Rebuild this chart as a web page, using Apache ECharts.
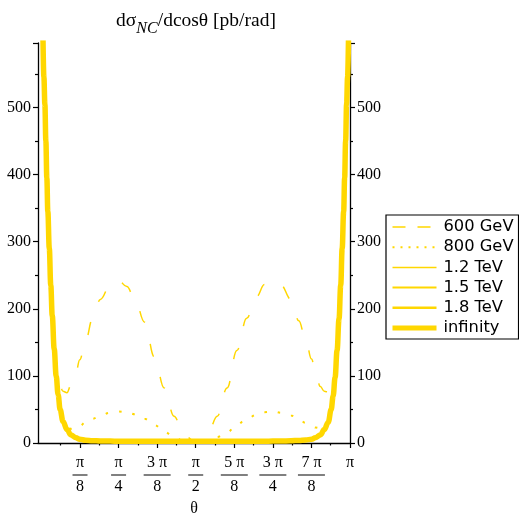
<!DOCTYPE html>
<html>
<head>
<meta charset="utf-8">
<script src="https://cdn.jsdelivr.net/npm/echarts@6/dist/echarts.min.js"></script>
<style>
html,body{margin:0;padding:0;background:#fff;}
#chart{width:519px;height:515px;}
</style>
</head>
<body>
<div id="chart"></div>
<script>
// sample angles (rad)
const theta = [0.016,0.025,0.035,0.045,0.055,0.065,0.08,0.095,0.11,0.13,0.15,0.17,0.19,0.22,0.26,0.30,0.35,0.39,0.45,0.52,0.60,0.70,0.785,0.87,0.95,1.05,1.15,1.25,1.35,1.45,1.571,
  1.69,1.79,1.89,1.99,2.09,2.19,2.27,2.356,2.44,2.54,2.62,2.69,2.75,2.79,2.84,2.88,2.92,2.95,2.97,2.99,3.01,3.03,3.047,3.062,3.077,3.087,3.097,3.107,3.117,3.126];

const gev600 = [600,545,505,452,398,350,296,243,200,155,120,98,84,77,75,86,104,124,153,185,214,235,242,233,215,180,128,82,40,12,1,
  12,40,82,138,186,218,236,242,235,214,182,155,125,105,84,77,76,80,90,110,145,190,240,294,348,398,452,505,545,600];
const gev800 = [600,545,505,450,396,346,292,237,192,142,103,75,54,34,25,21,22,25,31,36,41,45,47,46,43,36,27,17,9,3,1,
  3,9,16,27,36,42,46,47,45,41,35,30,26,23,22,24,32,52,72,100,140,187,237,292,346,396,450,505,545,600];
const tev12 = [600,545,505,450,395,345,290,235,190,140,100,72,50,32,20,13,9,6.5,5.5,5,5,5,5,5,4.8,4.5,4,3.5,3,2.7,2.5,
  2.7,3,3.5,4,4.5,4.8,5,5,5,5,5,5.5,6.5,9,13,20,31,50,70,98,138,185,235,290,345,395,450,505,545,600];
const tev15 = [600,545,505,450,395,345,290,235,190,140,100,72,50,32,20,12.5,8.5,6,4.8,4.2,4,4,4,3.9,3.7,3.5,3.2,3,2.7,2.6,2.5,
  2.6,2.7,3,3.2,3.5,3.7,3.9,4,4,4,4.2,4.8,6,8.5,12.5,20,31,50,70,98,138,185,235,290,345,395,450,505,545,600];
const tev18 = [600,545,505,450,395,345,290,235,190,140,100,72,50,32,20,12,8.2,5.8,4.5,3.8,3.5,3.4,3.3,3.2,3.1,3,2.9,2.8,2.6,2.5,2.5,
  2.5,2.6,2.8,2.9,3,3.1,3.2,3.3,3.4,3.5,3.8,4.5,5.8,8.2,12,20,31,50,70,98,138,185,235,290,345,395,450,505,545,600];
const infinity = [600,545,505,450,395,345,290,235,190,140,100,72,50,32,20,12,8,5.5,4.2,3.5,3,2.8,2.6,2.5,2.5,2.5,2.5,2.5,2.5,2.5,2.5,
  2.5,2.5,2.5,2.5,2.5,2.6,2.7,2.8,3,3.3,3.8,4.5,5.5,8,12,20,31,50,70,98,138,185,235,290,345,395,450,505,545,600];

const seriesNames = ['600 GeV','800 GeV','1.2 TeV','1.5 TeV','1.8 TeV','infinity'];
const seriesValues = [gev600, gev800, tev12, tev15, tev18, infinity];
const xTickLabels = ['π/8','π/4','3 π/8','π/2','5 π/8','3 π/4','7 π/8','π'];
const yMax = 596;

const GOLD = '#FFD700';
const widths = [1.5, 2, 1.3, 2, 2.6, 5.5];
const dashes = [[13,22],[2.5,11],'solid','solid','solid','solid'];
const legendDashes = [[13,12],[2,6],'solid','solid','solid','solid'];
const legendWidths = [1.5, 2, 1.5, 2, 2.6, 5];

const majorTicks = [];
for (let k = 1; k <= 8; k++) majorTicks.push(k * Math.PI / 8);
const minorTicks = [];
for (let k = 1; k <= 16; k += 2) minorTicks.push(k * Math.PI / 16);

const serif = 'Liberation Serif';

function fracLabel(value) {
  const idx = Math.round(value / (Math.PI / 8)) - 1;
  const s = xTickLabels[idx] || '';
  const parts = s.split('/');
  if (parts.length === 1) return '{n|' + parts[0] + '}';
  const bar = parts[0].length > 1 ? 'barw' : 'bar';
  return '{n|' + parts[0] + '}\n{' + bar + '| }\n{n|' + parts[1] + '}';
}

const chart = echarts.init(document.getElementById('chart'), null, {renderer: 'canvas'});

const series = seriesNames.map((name, i) => ({
  name: name,
  type: 'line',
  xAxisIndex: 0,
  yAxisIndex: 0,
  data: theta.map((t, j) => [t, seriesValues[i][j]]),
  showSymbol: false,
  symbol: 'none',
  smooth: 0.4,
  smoothMonotone: 'x',
  clip: true,
  lineStyle: {color: GOLD, width: widths[i], type: dashes[i], cap: 'butt'},
  itemStyle: {color: GOLD},
  emphasis: {disabled: true},
  animation: false
}));

const yBase = {
  type: 'value', min: 0, max: yMax, interval: 100,
  axisLine: {show: true, onZero: false, lineStyle: {color: '#000', width: 1.3}},
  axisTick: {show: true, length: 5, lineStyle: {color: '#000', width: 1.2}},
  minorTick: {show: true, splitNumber: 2, length: 3, lineStyle: {color: '#000', width: 1.2}},
  splitLine: {show: false},
  axisLabel: {show: true, margin: 7, color: '#000', fontFamily: serif, fontSize: 16,
    showMaxLabel: false}
};

chart.setOption({
  backgroundColor: '#fff',
  animation: false,
  title: {
    text: '{m|dσ}{sub|NC}{m|/dcosθ [pb/rad]}',
    left: 191, top: 0, textAlign: 'center',
    textStyle: {
      fontFamily: serif, fontSize: 19.5, fontWeight: 'normal', color: '#000',
      rich: {
        m: {fontFamily: serif, fontSize: 19.5, color: '#000', lineHeight: 32, verticalAlign: 'middle'},
        sub: {fontFamily: serif, fontSize: 16, fontStyle: 'italic', color: '#000', lineHeight: 32, verticalAlign: 'bottom'}
      }
    }
  },
  grid: {left: 38, right: 169, top: 43, bottom: 72, containLabel: false, outerBoundsMode: 'none'},
  legend: {
    orient: 'vertical', left: 386, top: 215,
    padding: [4, 5, 3, 4],
    itemWidth: 44, itemHeight: 12, itemGap: 4.2,
    borderColor: '#000', borderWidth: 1.2,
    backgroundColor: '#fff',
    selectedMode: false,
    itemStyle: {opacity: 0},
    textStyle: {fontFamily: 'DejaVu Sans', fontSize: 16.3, lineHeight: 14, color: '#000', padding: [0, 0, 0, 2]},
    data: seriesNames.map((n, i) => ({
      name: n,
      lineStyle: {color: GOLD, width: legendWidths[i], type: legendDashes[i], opacity: 1},
      itemStyle: {opacity: 0}
    }))
  },
  xAxis: [
    {
      type: 'value', min: -0.035, max: Math.PI,
      axisLine: {show: true, onZero: false, lineStyle: {color: '#000', width: 1.3}},
      axisTick: {show: true, length: 5, customValues: majorTicks, lineStyle: {color: '#000', width: 1.2}},
      axisLabel: {
        show: true, customValues: majorTicks, margin: 10, color: '#000',
        fontFamily: serif, fontSize: 16,
        formatter: fracLabel,
        rich: {
          n: {fontFamily: serif, fontSize: 16, color: '#000', lineHeight: 20, align: 'center'},
          bar: {width: 15, height: 1, lineHeight: 4, backgroundColor: '#000', fontSize: 1},
          barw: {width: 27, height: 1, lineHeight: 4, backgroundColor: '#000', fontSize: 1}
        }
      },
      splitLine: {show: false},
      name: 'θ', nameLocation: 'middle', nameGap: 58,
      nameTextStyle: {fontFamily: serif, fontSize: 16, color: '#000'}
    },
    {
      type: 'value', min: -0.035, max: Math.PI,
      axisLine: {show: false, onZero: false},
      axisTick: {show: true, length: 2.5, customValues: minorTicks, lineStyle: {color: '#000', width: 1.2}},
      axisLabel: {show: false},
      splitLine: {show: false},
      position: 'bottom'
    }
  ],
  yAxis: [
    Object.assign({}, yBase, {position: 'left'}),
    Object.assign({}, yBase, {position: 'right'})
  ],
  series: series
});
</script>
</body>
</html>
